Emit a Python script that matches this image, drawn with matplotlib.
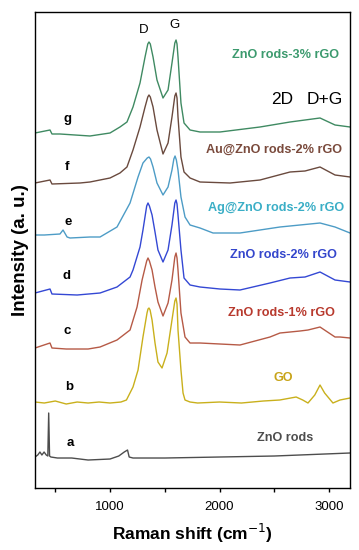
import numpy as np
import matplotlib
matplotlib.use('Agg')
import matplotlib.pyplot as plt
from matplotlib.ticker import MultipleLocator

plt.rcParams['font.family'] = ['Liberation Sans', 'DejaVu Sans']

# ---------------------------------------------------------------------------
# Data (Raman shift in cm-1, stacked intensity in a.u.)
# ---------------------------------------------------------------------------

x_a = [315, 340, 360, 378, 398, 418, 432, 440, 448, 460, 520, 650, 800, 1000,
       1080, 1130, 1160, 1175, 1210, 1500, 2000, 2500, 3190]
y_a = [31, 33, 36, 33, 36, 33, 32, 75, 32, 31, 30, 30, 28, 29,
       32, 36, 38, 31, 30, 30, 31, 32, 35]

x_b = [315, 400, 500, 600, 700, 800, 900, 1000, 1100, 1150, 1210, 1256, 1301,
       1338, 1347, 1356, 1366, 1384, 1411, 1438, 1475, 1521, 1566, 1592, 1603,
       1612, 1621, 1648, 1667, 1685, 1731, 1800, 2000, 2200, 2400, 2550, 2650,
       2700, 2760, 2808, 2870, 2918, 2960, 3036, 3100, 3192]
y_b = [86, 85, 87, 84, 86, 85, 86, 85, 86, 88, 101, 118, 151,
       175, 179, 180, 178, 168, 145, 126, 120, 135, 168, 187, 190,
       184, 158, 118, 95, 88, 86, 85, 86, 85, 87, 88, 90,
       91, 88, 85, 93, 103, 95, 85, 88, 90]

x_c = [315, 452, 470, 600, 800, 909, 1064, 1183, 1247, 1293, 1335, 1347, 1360,
       1384, 1411, 1438, 1484, 1530, 1566, 1592, 1603, 1612, 1621, 1648, 1685,
       1731, 1822, 2004, 2187, 2461, 2552, 2644, 2735, 2808, 2918, 3055, 3100,
       3192]
y_c = [140, 145, 140, 139, 139, 141, 148, 158, 181, 208, 227, 230, 227,
       218, 201, 186, 172, 185, 208, 231, 235, 230, 218, 175, 151,
       145, 145, 144, 143, 151, 155, 156, 157, 158, 161, 151, 151,
       150]

x_d = [315, 452, 470, 700, 909, 1064, 1183, 1210, 1274, 1301, 1335, 1347, 1360,
       1384, 1411, 1438, 1484, 1530, 1566, 1592, 1603, 1612, 1621, 1648, 1676,
       1731, 1822, 2004, 2187, 2461, 2644, 2781, 2918, 3055, 3192]
y_d = [195, 199, 194, 193, 195, 201, 211, 218, 241, 258, 282, 285, 282,
       273, 256, 238, 226, 238, 263, 285, 288, 284, 273, 238, 210,
       203, 201, 199, 198, 205, 210, 211, 216, 208, 206]

x_e = [315, 400, 543, 571, 608, 635, 817, 909, 1064, 1183, 1256, 1301, 1340,
       1356, 1370, 1393, 1429, 1484, 1530, 1566, 1583, 1594, 1606, 1621, 1648,
       1685, 1731, 1822, 1941, 2187, 2552, 2735, 2918, 3055, 3192]
y_e = [253, 253, 254, 258, 251, 250, 251, 251, 261, 285, 311, 325, 330,
       331, 329, 321, 305, 293, 301, 318, 329, 332, 328, 318, 291,
       271, 263, 260, 255, 255, 261, 263, 265, 261, 255]

x_f = [315, 452, 470, 726, 817, 1000, 1091, 1155, 1210, 1274, 1320, 1345, 1356,
       1368, 1393, 1429, 1484, 1530, 1566, 1592, 1603, 1612, 1621, 1648, 1676,
       1731, 1822, 2096, 2370, 2644, 2781, 2918, 3055, 3192]
y_f = [305, 308, 304, 305, 306, 310, 315, 321, 338, 361, 381, 391, 393,
       391, 381, 358, 334, 345, 371, 392, 395, 390, 371, 331, 316,
       310, 306, 305, 308, 316, 317, 321, 313, 311]

x_g = [315, 452, 470, 543, 817, 1000, 1091, 1155, 1210, 1274, 1320, 1345, 1356,
       1368, 1393, 1429, 1484, 1530, 1566, 1592, 1603, 1612, 1621, 1648, 1676,
       1731, 1822, 2004, 2370, 2644, 2781, 2918, 3055, 3192]
y_g = [355, 358, 354, 354, 352, 355, 361, 366, 381, 405, 431, 444, 446,
       444, 431, 408, 390, 398, 425, 445, 448, 444, 431, 385, 365,
       358, 356, 356, 361, 366, 368, 370, 363, 361]

letters = ['a', 'b', 'c', 'd', 'e', 'f', 'g']
names = ['ZnO rods', 'GO', 'ZnO rods-1% rGO', 'ZnO rods-2% rGO',
         'Ag@ZnO rods-2% rGO', 'Au@ZnO rods-2% rGO', 'ZnO rods-3% rGO']
xs = [x_a, x_b, x_c, x_d, x_e, x_f, x_g]
ys = [y_a, y_b, y_c, y_d, y_e, y_f, y_g]

line_colors = ['#4d4d4d', '#c9b01c', '#b65a46', '#3448d4',
               '#4d9cc6', '#6a4a3e', '#3f8a62']
text_colors = ['#4d4d4d', '#c8a419', '#b83a2e', '#3446cc',
               '#3aaec6', '#7a4a3c', '#3c9a6e']

# label positions (data coords)
name_pos = [(2598, 50), (2580, 110), (2562, 175), (2580, 233),
            (2516, 280), (2498, 338), (2607, 433)]
letter_pos = [(635, 45), (626, 101), (607, 157), (607, 212),
              (616, 266), (607, 321), (616, 369)]

# ---------------------------------------------------------------------------
# Plot
# ---------------------------------------------------------------------------

fig = plt.figure(figsize=(3.59, 5.5), dpi=100)
ax = fig.add_axes([0.0975, 0.1127, 0.8775, 0.8655])

for x, y, c in zip(xs, ys, line_colors):
    ax.plot(x, y, '-', color=c, linewidth=1.0)

for (tx, ty), nm, c in zip(name_pos, names, text_colors):
    ax.text(tx, ty, nm, color=c, fontsize=9.1, fontweight='bold',
            ha='center', va='center')

for (tx, ty), lt in zip(letter_pos, letters):
    ax.text(tx, ty, lt, color='black', fontsize=9.5, fontweight='bold',
            ha='center', va='center')

ax.text(1310, 458, 'D', fontsize=9.5, ha='center', va='center')
ax.text(1585, 463, 'G', fontsize=9.5, ha='center', va='center')
ax.text(2571, 388, '2D', fontsize=12.5, ha='center', va='center')
ax.text(2963, 388, 'D+G', fontsize=12.5, ha='center', va='center')

ax.set_xlim(315, 3192)
ax.set_ylim(0, 476)
ax.set_yticks([])
ax.xaxis.set_major_locator(MultipleLocator(1000))
ax.xaxis.set_minor_locator(MultipleLocator(500))
ax.tick_params(axis='x', which='both', direction='out', length=3,
               width=1.0, labelsize=9.5, pad=6)
for s in ax.spines.values():
    s.set_linewidth(1.0)

ax.set_xlabel('Raman shift (cm$^{-1}$)', fontsize=12.5, fontweight='bold',
              labelpad=7)
ax.set_ylabel('Intensity (a. u.)', fontsize=13.5, fontweight='bold',
              labelpad=4)

fig.savefig('out.png', dpi=100)
plt.close(fig)
